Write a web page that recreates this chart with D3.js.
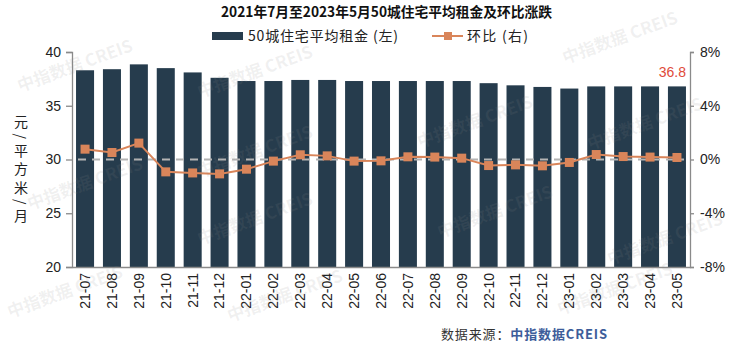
<!DOCTYPE html>
<html>
<head>
<meta charset="utf-8">
<script src="https://cdn.jsdelivr.net/npm/d3@7/dist/d3.min.js"></script>
<style>
  html, body { margin: 0; padding: 0; background: #fff; }
  svg { display: block; font-family: "Liberation Sans", Arial, "Noto Sans CJK SC", sans-serif; }
</style>
</head>
<body>
<svg id="chart" width="740" height="347"></svg>
<script>
// Monthly labels
const months = ["21-07","21-08","21-09","21-10","21-11","21-12","22-01","22-02","22-03","22-04","22-05","22-06",
                "22-07","22-08","22-09","22-10","22-11","22-12","23-01","23-02","23-03","23-04","23-05"];
// Average rent of 50 cities (yuan / m² / month)
const rent = [38.3,38.4,38.85,38.5,38.1,37.6,37.3,37.3,37.4,37.4,37.3,37.3,
              37.3,37.3,37.3,37.1,36.9,36.75,36.6,36.8,36.8,36.8,36.8];
// Month-over-month change (%)
const mom = [0.77,0.52,1.22,-0.92,-1.0,-1.07,-0.72,-0.12,0.35,0.27,-0.12,-0.1,
             0.2,0.18,0.1,-0.45,-0.4,-0.47,-0.22,0.37,0.22,0.18,0.15];
const leftTicks = [20,25,30,35,40];
const rightTicks = [-8,-4,0,4,8];

const svg = d3.select("#chart");
const cjk = "'Noto Sans CJK SC', 'Liberation Sans', sans-serif";
const latin = "'Liberation Sans', Arial, sans-serif";
const m = {left: 72, right: 690, top: 52, bottom: 267};
const barColor = "#263c4d";
const lineColor = "#d9855a";

const x = d3.scaleBand().domain(months).range([m.left, m.right]).paddingInner(0.33).paddingOuter(0.15);
const yL = d3.scaleLinear().domain([20, 40]).range([m.bottom, m.top]);
const yR = d3.scaleLinear().domain([-8, 8]).range([m.bottom, m.top]);

// Bars
svg.append("g").selectAll("rect").data(rent).join("rect")
  .attr("x", (d,i) => x(months[i]))
  .attr("width", x.bandwidth())
  .attr("y", d => yL(d))
  .attr("height", d => yL(20) - yL(d))
  .attr("fill", barColor);

// Zero reference line
svg.append("line")
  .attr("x1", m.left + 6).attr("x2", m.right - 6)
  .attr("y1", yR(0)).attr("y2", yR(0))
  .attr("stroke", "#b4b4b4").attr("stroke-width", 2).attr("stroke-dasharray", "8,6");

// MoM line with square markers
const line = d3.line().x((d,i) => x(months[i]) + x.bandwidth()/2).y(d => yR(d));
svg.append("path").datum(mom).attr("d", line)
  .attr("fill", "none").attr("stroke", lineColor).attr("stroke-width", 2);
svg.append("g").selectAll("rect").data(mom).join("rect")
  .attr("x", (d,i) => x(months[i]) + x.bandwidth()/2 - 4.5)
  .attr("y", d => yR(d) - 4.5)
  .attr("width", 9).attr("height", 9)
  .attr("fill", lineColor);

// Left axis
const axL = svg.append("g").attr("transform", `translate(${m.left},0)`)
  .call(d3.axisLeft(yL).tickValues(leftTicks).tickSize(6).tickPadding(5));
// Right axis
const axR = svg.append("g").attr("transform", `translate(${m.right},0)`)
  .call(d3.axisRight(yR).tickValues(rightTicks).tickSize(4).tickPadding(6).tickFormat(d => d + "%"));
[axL, axR].forEach(a => {
  a.select(".domain").attr("stroke", "#8a8a8a").attr("stroke-width", 1.3);
  a.selectAll(".tick line").attr("stroke", "#8a8a8a").attr("stroke-width", 1.3);
  a.selectAll(".tick text").attr("font-size", 14).attr("fill", "#222").attr("font-family", latin);
});

// Bottom axis with vertical month labels
const axB = svg.append("g").attr("transform", `translate(0,${m.bottom})`)
  .call(d3.axisBottom(x).tickSize(0).tickPadding(0));
axB.select(".domain").attr("stroke", "#8a8a8a").attr("stroke-width", 1.3);
axB.selectAll(".tick text")
  .attr("font-size", 14).attr("fill", "#222")
  .attr("font-family", latin)
  .attr("text-anchor", "end")
  .attr("dy", "0.35em")
  .attr("transform", "translate(0,6) rotate(-90)");

// Left axis unit, written vertically
svg.append("text")
  .attr("x", 21).attr("y", 115)
  .style("writing-mode", "vertical-rl")
  .style("letter-spacing", "4.5px")
  .attr("font-family", cjk).attr("font-size", 14).attr("fill", "#222")
  .text("元/平方米/月");

// Value label for the last month
svg.append("text")
  .attr("x", 686)
  .attr("y", yL(rent[rent.length-1]) - 9)
  .attr("text-anchor", "end")
  .attr("font-size", 14).attr("fill", "#e04a3a").attr("font-family", latin)
  .text(d3.format(".1f")(rent[rent.length-1]));

// Title
svg.append("text").attr("x", 221).attr("y", 17)
  .attr("font-family", cjk).attr("font-size", 14).attr("font-weight", "bold").attr("fill", "#111")
  .attr("textLength", 331).attr("lengthAdjust", "spacingAndGlyphs")
  .text("2021年7月至2023年5月50城住宅平均租金及环比涨跌");

// Legend
const lg = svg.append("g").attr("font-family", cjk).attr("font-size", 14).attr("fill", "#222");
lg.append("rect").attr("x", 212).attr("y", 32).attr("width", 31).attr("height", 8).attr("fill", barColor);
lg.append("text").attr("x", 248).attr("y", 36).attr("dy", "0.35em")
  .attr("textLength", 150).attr("lengthAdjust", "spacing")
  .text("50城住宅平均租金 (左)");
lg.append("line").attr("x1", 432).attr("x2", 463).attr("y1", 36).attr("y2", 36).attr("stroke", lineColor).attr("stroke-width", 2);
lg.append("rect").attr("x", 444).attr("y", 32).attr("width", 8).attr("height", 8).attr("fill", lineColor);
lg.append("text").attr("x", 467).attr("y", 36).attr("dy", "0.35em")
  .attr("textLength", 61).attr("lengthAdjust", "spacing")
  .text("环比 (右)");

// Source note
const src = svg.append("text").attr("x", 441).attr("y", 334).attr("dy", "0.35em")
  .attr("font-family", cjk).attr("font-size", 13)
  .attr("textLength", 166).attr("lengthAdjust", "spacing");
src.append("tspan").attr("fill", "#333").text("数据来源：");
src.append("tspan").attr("fill", "#3d5d9a").attr("font-weight", "bold").text("中指数据CREIS");

// Faint watermark over the chart
const wm = svg.append("g").attr("fill", "#8a8a8a").attr("fill-opacity", 0.13)
  .attr("font-family", cjk).attr("font-size", 17).attr("font-weight", "bold");
[[20,92],[200,98],[565,64],[420,148],[200,178],[30,210],[590,150],[440,238],[200,245],[610,265],[10,318],[230,322],[560,315]]
  .forEach(([px,py]) => {
    wm.append("text").attr("transform", `translate(${px},${py}) rotate(-20)`).text("中指数据 CREIS");
  });
</script>
</body>
</html>
